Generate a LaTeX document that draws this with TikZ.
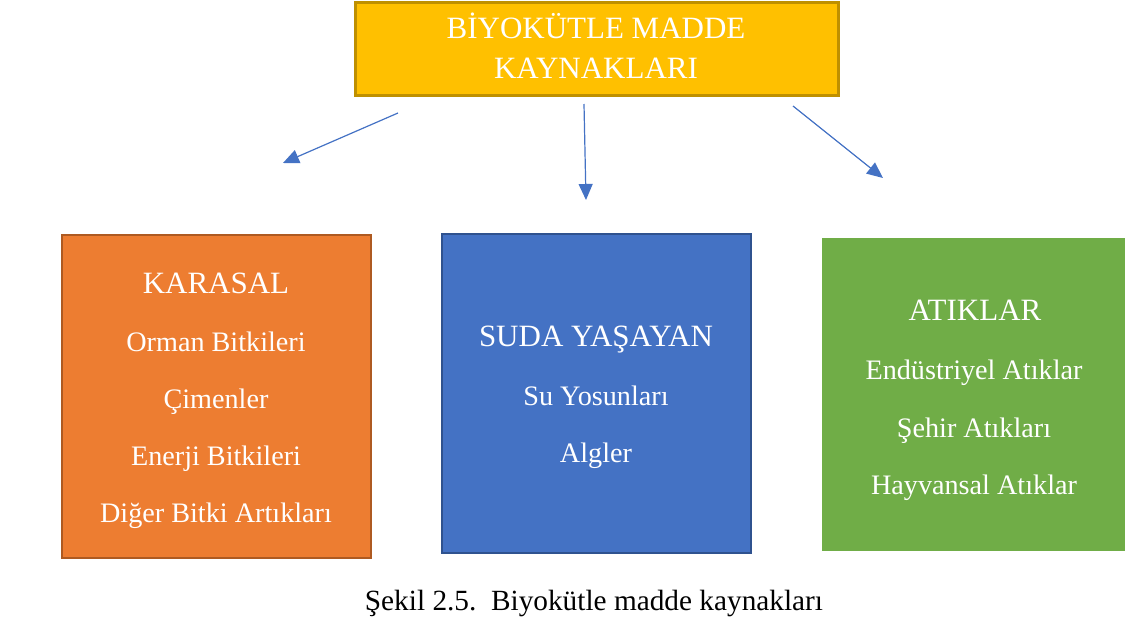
\documentclass[tikz,border=0pt]{standalone}
\usepackage{fontspec}
\setmainfont{Liberation Serif}
\usetikzlibrary{arrows.meta}
\definecolor{ygold}{HTML}{FFC000}
\definecolor{ygoldd}{HTML}{BF9000}
\definecolor{oran}{HTML}{ED7D31}
\definecolor{orand}{HTML}{AE5A21}
\definecolor{blu}{HTML}{4472C4}
\definecolor{blud}{HTML}{2F528F}
\definecolor{grn}{HTML}{70AD47}
\tikzset{
  box/.style={rectangle, inner sep=0pt, outer sep=0pt},
  head/.style={anchor=base, text=white, inner sep=0pt, font=\fontsize{31}{37}\selectfont},
  item/.style={anchor=base, text=white, inner sep=0pt, font=\fontsize{28.2}{33}\selectfont},
  conn/.style={draw=blu, line width=1.2pt, -{Triangle[length=16pt,width=14pt]}},
}
\begin{document}
\begin{tikzpicture}[x=1pt,y=-1pt]
\useasboundingbox (0,0) rectangle (1125,626);
% top box
\node[box, fill=ygold, draw=ygoldd, line width=3pt, minimum width=483pt, minimum height=93pt] (top) at (596.5,49.5) {};
\node[head] (t1) at (596,39) {BİYOKÜTLE MADDE};
\node[head] (t2) at (596,79) {KAYNAKLARI};
% left box
\node[box, fill=oran, draw=orand, line width=2pt, minimum width=309pt, minimum height=323pt] (kara) at (216.5,396.5) {};
\node[head] (k0) at (216,293) {KARASAL};
\node[item] (k1) at (216,351) {Orman Bitkileri};
\node[item] (k2) at (216,408) {Çimenler};
\node[item] (k3) at (216,465) {Enerji Bitkileri};
\node[item] (k4) at (216,522) {Diğer Bitki Artıkları};
% middle box
\node[box, fill=blu, draw=blud, line width=2pt, minimum width=309pt, minimum height=319pt] (suda) at (596.5,393.5) {};
\node[head] (s0) at (596,346) {SUDA YAŞAYAN};
\node[item] (s1) at (596,405) {Su Yosunları};
\node[item] (s2) at (596,462) {Algler};
% right box
\node[box, fill=grn, minimum width=303pt, minimum height=313pt] (atik) at (973.5,394.5) {};
\node[head] (a0) at (975,320) {ATIKLAR};
\node[item] (a1) at (974,379) {Endüstriyel Atıklar};
\node[item] (a2) at (974,437) {Şehir Atıkları};
\node[item] (a3) at (974,494) {Hayvansal Atıklar};
% arrows
\coordinate (l1) at (398,113);
\coordinate (l2) at (283,163);
\coordinate (m1) at (584,104);
\coordinate (m2) at (586,200);
\coordinate (r1) at (793,106);
\coordinate (r2) at (883,178);
\draw[conn] (l1) -- (l2);
\draw[conn] (m1) -- (m2);
\draw[conn] (r1) -- (r2);
% caption
\node[anchor=base, inner sep=0pt, font=\fontsize{29.3}{35}\selectfont] (cap) at (594,610) {Şekil 2.5.\ \ Biyokütle madde kaynakları};
\end{tikzpicture}
\end{document}
